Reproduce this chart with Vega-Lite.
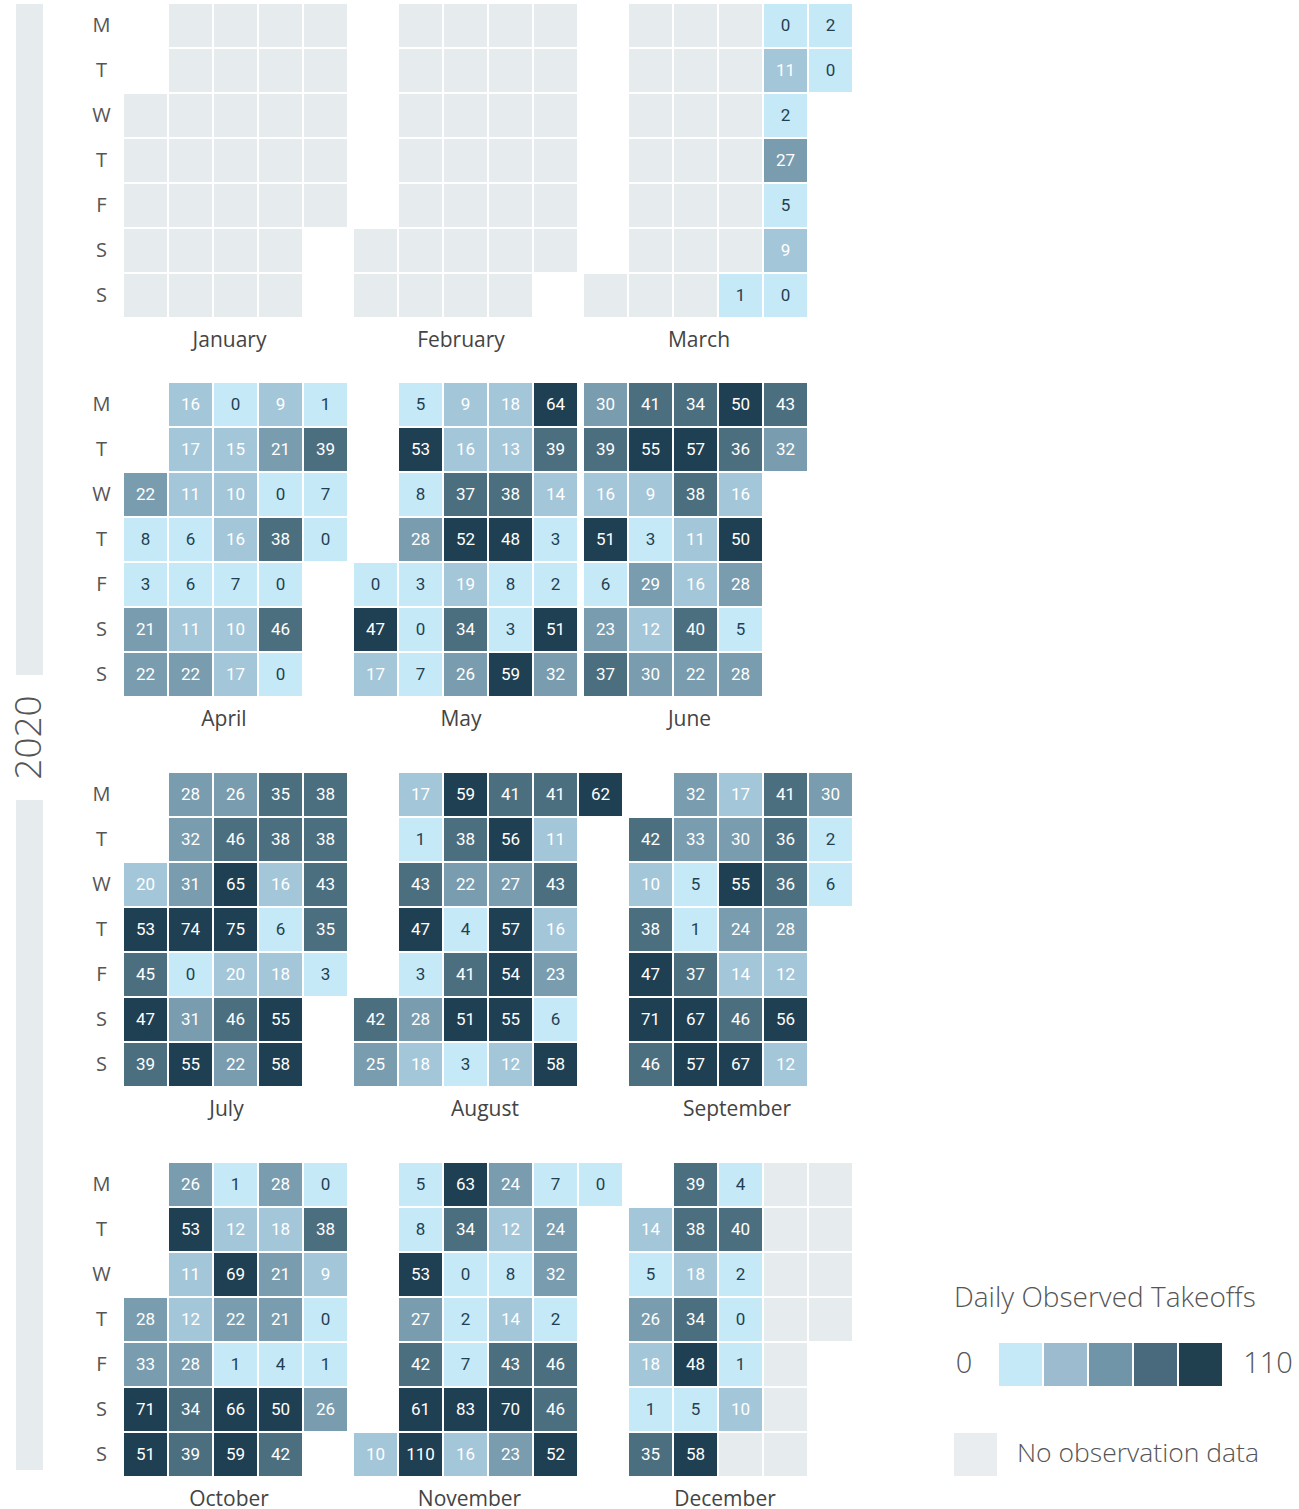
{
"$schema": "https://vega.github.io/schema/vega-lite/v6.json",
"padding": {"left": 10, "top": 4, "right": 5, "bottom": 0},
"background": "white",
"config": {"view": {"stroke": null}, "font": "Open Sans"},
"datasets": {"cal": [
{"date":"2020-01-01"},{"date":"2020-01-02"},{"date":"2020-01-03"},{"date":"2020-01-04"},{"date":"2020-01-05"},{"date":"2020-01-06"},{"date":"2020-01-07"},{"date":"2020-01-08"},{"date":"2020-01-09"},{"date":"2020-01-10"},{"date":"2020-01-11"},{"date":"2020-01-12"},{"date":"2020-01-13"},{"date":"2020-01-14"},{"date":"2020-01-15"},{"date":"2020-01-16"},{"date":"2020-01-17"},{"date":"2020-01-18"},{"date":"2020-01-19"},{"date":"2020-01-20"},{"date":"2020-01-21"},{"date":"2020-01-22"},{"date":"2020-01-23"},{"date":"2020-01-24"},{"date":"2020-01-25"},{"date":"2020-01-26"},{"date":"2020-01-27"},{"date":"2020-01-28"},{"date":"2020-01-29"},{"date":"2020-01-30"},{"date":"2020-01-31"},
{"date":"2020-02-01"},{"date":"2020-02-02"},{"date":"2020-02-03"},{"date":"2020-02-04"},{"date":"2020-02-05"},{"date":"2020-02-06"},{"date":"2020-02-07"},{"date":"2020-02-08"},{"date":"2020-02-09"},{"date":"2020-02-10"},{"date":"2020-02-11"},{"date":"2020-02-12"},{"date":"2020-02-13"},{"date":"2020-02-14"},{"date":"2020-02-15"},{"date":"2020-02-16"},{"date":"2020-02-17"},{"date":"2020-02-18"},{"date":"2020-02-19"},{"date":"2020-02-20"},{"date":"2020-02-21"},{"date":"2020-02-22"},{"date":"2020-02-23"},{"date":"2020-02-24"},{"date":"2020-02-25"},{"date":"2020-02-26"},{"date":"2020-02-27"},{"date":"2020-02-28"},{"date":"2020-02-29"},
{"date":"2020-03-01"},{"date":"2020-03-02"},{"date":"2020-03-03"},{"date":"2020-03-04"},{"date":"2020-03-05"},{"date":"2020-03-06"},{"date":"2020-03-07"},{"date":"2020-03-08"},{"date":"2020-03-09"},{"date":"2020-03-10"},{"date":"2020-03-11"},{"date":"2020-03-12"},{"date":"2020-03-13"},{"date":"2020-03-14"},{"date":"2020-03-15"},{"date":"2020-03-16"},{"date":"2020-03-17"},{"date":"2020-03-18"},{"date":"2020-03-19"},{"date":"2020-03-20"},{"date":"2020-03-21"},
{"date":"2020-03-22","v":1},{"date":"2020-03-23","v":0},{"date":"2020-03-24","v":11},{"date":"2020-03-25","v":2},{"date":"2020-03-26","v":27},{"date":"2020-03-27","v":5},{"date":"2020-03-28","v":9},{"date":"2020-03-29","v":0},{"date":"2020-03-30","v":2},{"date":"2020-03-31","v":0},
{"date":"2020-04-01","v":22},{"date":"2020-04-02","v":8},{"date":"2020-04-03","v":3},{"date":"2020-04-04","v":21},{"date":"2020-04-05","v":22},{"date":"2020-04-06","v":16},{"date":"2020-04-07","v":17},{"date":"2020-04-08","v":11},{"date":"2020-04-09","v":6},{"date":"2020-04-10","v":6},{"date":"2020-04-11","v":11},{"date":"2020-04-12","v":22},{"date":"2020-04-13","v":0},{"date":"2020-04-14","v":15},{"date":"2020-04-15","v":10},{"date":"2020-04-16","v":16},{"date":"2020-04-17","v":7},{"date":"2020-04-18","v":10},{"date":"2020-04-19","v":17},{"date":"2020-04-20","v":9},{"date":"2020-04-21","v":21},{"date":"2020-04-22","v":0},{"date":"2020-04-23","v":38},{"date":"2020-04-24","v":0},{"date":"2020-04-25","v":46},{"date":"2020-04-26","v":0},{"date":"2020-04-27","v":1},{"date":"2020-04-28","v":39},{"date":"2020-04-29","v":7},{"date":"2020-04-30","v":0},
{"date":"2020-05-01","v":0},{"date":"2020-05-02","v":47},{"date":"2020-05-03","v":17},{"date":"2020-05-04","v":5},{"date":"2020-05-05","v":53},{"date":"2020-05-06","v":8},{"date":"2020-05-07","v":28},{"date":"2020-05-08","v":3},{"date":"2020-05-09","v":0},{"date":"2020-05-10","v":7},{"date":"2020-05-11","v":9},{"date":"2020-05-12","v":16},{"date":"2020-05-13","v":37},{"date":"2020-05-14","v":52},{"date":"2020-05-15","v":19},{"date":"2020-05-16","v":34},{"date":"2020-05-17","v":26},{"date":"2020-05-18","v":18},{"date":"2020-05-19","v":13},{"date":"2020-05-20","v":38},{"date":"2020-05-21","v":48},{"date":"2020-05-22","v":8},{"date":"2020-05-23","v":3},{"date":"2020-05-24","v":59},{"date":"2020-05-25","v":64},{"date":"2020-05-26","v":39},{"date":"2020-05-27","v":14},{"date":"2020-05-28","v":3},{"date":"2020-05-29","v":2},{"date":"2020-05-30","v":51},{"date":"2020-05-31","v":32},
{"date":"2020-06-01","v":30},{"date":"2020-06-02","v":39},{"date":"2020-06-03","v":16},{"date":"2020-06-04","v":51},{"date":"2020-06-05","v":6},{"date":"2020-06-06","v":23},{"date":"2020-06-07","v":37},{"date":"2020-06-08","v":41},{"date":"2020-06-09","v":55},{"date":"2020-06-10","v":9},{"date":"2020-06-11","v":3},{"date":"2020-06-12","v":29},{"date":"2020-06-13","v":12},{"date":"2020-06-14","v":30},{"date":"2020-06-15","v":34},{"date":"2020-06-16","v":57},{"date":"2020-06-17","v":38},{"date":"2020-06-18","v":11},{"date":"2020-06-19","v":16},{"date":"2020-06-20","v":40},{"date":"2020-06-21","v":22},{"date":"2020-06-22","v":50},{"date":"2020-06-23","v":36},{"date":"2020-06-24","v":16},{"date":"2020-06-25","v":50},{"date":"2020-06-26","v":28},{"date":"2020-06-27","v":5},{"date":"2020-06-28","v":28},{"date":"2020-06-29","v":43},{"date":"2020-06-30","v":32},
{"date":"2020-07-01","v":20},{"date":"2020-07-02","v":53},{"date":"2020-07-03","v":45},{"date":"2020-07-04","v":47},{"date":"2020-07-05","v":39},{"date":"2020-07-06","v":28},{"date":"2020-07-07","v":32},{"date":"2020-07-08","v":31},{"date":"2020-07-09","v":74},{"date":"2020-07-10","v":0},{"date":"2020-07-11","v":31},{"date":"2020-07-12","v":55},{"date":"2020-07-13","v":26},{"date":"2020-07-14","v":46},{"date":"2020-07-15","v":65},{"date":"2020-07-16","v":75},{"date":"2020-07-17","v":20},{"date":"2020-07-18","v":46},{"date":"2020-07-19","v":22},{"date":"2020-07-20","v":35},{"date":"2020-07-21","v":38},{"date":"2020-07-22","v":16},{"date":"2020-07-23","v":6},{"date":"2020-07-24","v":18},{"date":"2020-07-25","v":55},{"date":"2020-07-26","v":58},{"date":"2020-07-27","v":38},{"date":"2020-07-28","v":38},{"date":"2020-07-29","v":43},{"date":"2020-07-30","v":35},{"date":"2020-07-31","v":3},
{"date":"2020-08-01","v":42},{"date":"2020-08-02","v":25},{"date":"2020-08-03","v":17},{"date":"2020-08-04","v":1},{"date":"2020-08-05","v":43},{"date":"2020-08-06","v":47},{"date":"2020-08-07","v":3},{"date":"2020-08-08","v":28},{"date":"2020-08-09","v":18},{"date":"2020-08-10","v":59},{"date":"2020-08-11","v":38},{"date":"2020-08-12","v":22},{"date":"2020-08-13","v":4},{"date":"2020-08-14","v":41},{"date":"2020-08-15","v":51},{"date":"2020-08-16","v":3},{"date":"2020-08-17","v":41},{"date":"2020-08-18","v":56},{"date":"2020-08-19","v":27},{"date":"2020-08-20","v":57},{"date":"2020-08-21","v":54},{"date":"2020-08-22","v":55},{"date":"2020-08-23","v":12},{"date":"2020-08-24","v":41},{"date":"2020-08-25","v":11},{"date":"2020-08-26","v":43},{"date":"2020-08-27","v":16},{"date":"2020-08-28","v":23},{"date":"2020-08-29","v":6},{"date":"2020-08-30","v":58},{"date":"2020-08-31","v":62},
{"date":"2020-09-01","v":42},{"date":"2020-09-02","v":10},{"date":"2020-09-03","v":38},{"date":"2020-09-04","v":47},{"date":"2020-09-05","v":71},{"date":"2020-09-06","v":46},{"date":"2020-09-07","v":32},{"date":"2020-09-08","v":33},{"date":"2020-09-09","v":5},{"date":"2020-09-10","v":1},{"date":"2020-09-11","v":37},{"date":"2020-09-12","v":67},{"date":"2020-09-13","v":57},{"date":"2020-09-14","v":17},{"date":"2020-09-15","v":30},{"date":"2020-09-16","v":55},{"date":"2020-09-17","v":24},{"date":"2020-09-18","v":14},{"date":"2020-09-19","v":46},{"date":"2020-09-20","v":67},{"date":"2020-09-21","v":41},{"date":"2020-09-22","v":36},{"date":"2020-09-23","v":36},{"date":"2020-09-24","v":28},{"date":"2020-09-25","v":12},{"date":"2020-09-26","v":56},{"date":"2020-09-27","v":12},{"date":"2020-09-28","v":30},{"date":"2020-09-29","v":2},{"date":"2020-09-30","v":6},
{"date":"2020-10-01","v":28},{"date":"2020-10-02","v":33},{"date":"2020-10-03","v":71},{"date":"2020-10-04","v":51},{"date":"2020-10-05","v":26},{"date":"2020-10-06","v":53},{"date":"2020-10-07","v":11},{"date":"2020-10-08","v":12},{"date":"2020-10-09","v":28},{"date":"2020-10-10","v":34},{"date":"2020-10-11","v":39},{"date":"2020-10-12","v":1},{"date":"2020-10-13","v":12},{"date":"2020-10-14","v":69},{"date":"2020-10-15","v":22},{"date":"2020-10-16","v":1},{"date":"2020-10-17","v":66},{"date":"2020-10-18","v":59},{"date":"2020-10-19","v":28},{"date":"2020-10-20","v":18},{"date":"2020-10-21","v":21},{"date":"2020-10-22","v":21},{"date":"2020-10-23","v":4},{"date":"2020-10-24","v":50},{"date":"2020-10-25","v":42},{"date":"2020-10-26","v":0},{"date":"2020-10-27","v":38},{"date":"2020-10-28","v":9},{"date":"2020-10-29","v":0},{"date":"2020-10-30","v":1},{"date":"2020-10-31","v":26},
{"date":"2020-11-01","v":10},{"date":"2020-11-02","v":5},{"date":"2020-11-03","v":8},{"date":"2020-11-04","v":53},{"date":"2020-11-05","v":27},{"date":"2020-11-06","v":42},{"date":"2020-11-07","v":61},{"date":"2020-11-08","v":110},{"date":"2020-11-09","v":63},{"date":"2020-11-10","v":34},{"date":"2020-11-11","v":0},{"date":"2020-11-12","v":2},{"date":"2020-11-13","v":7},{"date":"2020-11-14","v":83},{"date":"2020-11-15","v":16},{"date":"2020-11-16","v":24},{"date":"2020-11-17","v":12},{"date":"2020-11-18","v":8},{"date":"2020-11-19","v":14},{"date":"2020-11-20","v":43},{"date":"2020-11-21","v":70},{"date":"2020-11-22","v":23},{"date":"2020-11-23","v":7},{"date":"2020-11-24","v":24},{"date":"2020-11-25","v":32},{"date":"2020-11-26","v":2},{"date":"2020-11-27","v":46},{"date":"2020-11-28","v":46},{"date":"2020-11-29","v":52},{"date":"2020-11-30","v":0},
{"date":"2020-12-01","v":14},{"date":"2020-12-02","v":5},{"date":"2020-12-03","v":26},{"date":"2020-12-04","v":18},{"date":"2020-12-05","v":1},{"date":"2020-12-06","v":35},{"date":"2020-12-07","v":39},{"date":"2020-12-08","v":38},{"date":"2020-12-09","v":18},{"date":"2020-12-10","v":34},{"date":"2020-12-11","v":48},{"date":"2020-12-12","v":5},{"date":"2020-12-13","v":58},{"date":"2020-12-14","v":4},{"date":"2020-12-15","v":40},{"date":"2020-12-16","v":2},{"date":"2020-12-17","v":0},{"date":"2020-12-18","v":1},{"date":"2020-12-19","v":10},
{"date":"2020-12-20"},{"date":"2020-12-21"},{"date":"2020-12-22"},{"date":"2020-12-23"},{"date":"2020-12-24"},{"date":"2020-12-25"},{"date":"2020-12-26"},{"date":"2020-12-27"},{"date":"2020-12-28"},{"date":"2020-12-29"},{"date":"2020-12-30"},{"date":"2020-12-31"}
]},
"spacing": 43,
"hconcat": [
 {"spacing": 0, "vconcat": [
  {"width": 27, "height": 671, "data": {"values": [{}]}, "mark": {"type": "rect", "color": "#e6ebee"}, "encoding": {}},
  {"width": 27, "height": 125, "data": {"values": [{"year": "2020"}]}, "mark": {"type": "text", "angle": 270, "font": "Open Sans", "fontSize": 37, "fontWeight": 300, "color": "#555555", "align": "center", "baseline": "middle"}, "encoding": {"text": {"field": "year", "type": "nominal"}}},
  {"width": 27, "height": 670, "data": {"values": [{}]}, "mark": {"type": "rect", "color": "#e6ebee"}, "encoding": {}}
 ]},
 {"data": {"name": "cal"},
  "transform": [
   {"calculate": "toDate(datum.date)", "as": "t"},
   {"calculate": "utcmonth(datum.t)", "as": "mo"},
   {"calculate": "utcdate(datum.t)", "as": "dom"},
   {"calculate": "(utcday(datum.t) + 6) % 7", "as": "dow"},
   {"calculate": "floor((datum.dom - 1 + ((datum.dow - (datum.dom - 1) % 7 + 7) % 7)) / 7)", "as": "wk"}
  ],
  "spacing": 31,
  "vconcat": [
   {"spacing": 6, "hconcat": [
    {"title": {"text": "January", "orient": "bottom", "frame": "group", "offset": 13, "dx": -6, "fontSize": 21, "fontWeight": "normal", "color": "#444444", "font": "Open Sans"},
     "width": {"step": 45}, "height": {"step": 45},
     "transform": [{"filter": "datum.mo === 0"}],
     "encoding": {"x": {"field": "wk", "type": "ordinal", "axis": null, "scale": {"paddingInner": 0.0444, "paddingOuter": 0}},
      "y": {"field": "dow", "type": "ordinal", "scale": {"domain": [0,1,2,3,4,5,6], "paddingInner": 0.0444, "paddingOuter": 0},
       "axis": {"title": null, "domain": false, "ticks": false, "labelExpr": "['M','T','W','T','F','S','S'][datum.value]", "labelAlign": "center", "labelPadding": 23, "labelFont": "Open Sans", "labelFontSize": 20, "labelColor": "#555555"}}},
     "layer": [
      {"mark": {"type": "rect", "color": "#e6ebee"}},
      {"transform": [{"filter": "isValid(datum.v)"}], "mark": {"type": "rect"}, "encoding": {"color": {"field": "v", "type": "quantitative", "legend": null, "scale": {"type": "threshold", "domain": [9,21,34,47], "range": ["#c6e9f8","#a4c6d9","#799cae","#4c6f80","#1f3f52"]}}}},
      {"transform": [{"filter": "isValid(datum.v)"}], "mark": {"type": "text", "font": "Roboto", "fontSize": 17}, "encoding": {"text": {"field": "v", "type": "quantitative"}, "color": {"condition": {"test": "datum.v < 9", "value": "#1f3f52"}, "value": "#ffffff"}}}
     ]},
    {"title": {"text": "February", "orient": "bottom", "frame": "group", "offset": 13, "dx": -4.5, "fontSize": 21, "fontWeight": "normal", "color": "#444444", "font": "Open Sans"},
     "width": {"step": 45}, "height": {"step": 45},
     "transform": [{"filter": "datum.mo === 1"}],
     "encoding": {"x": {"field": "wk", "type": "ordinal", "axis": null, "scale": {"paddingInner": 0.0444, "paddingOuter": 0}},
      "y": {"field": "dow", "type": "ordinal", "axis": null, "scale": {"domain": [0,1,2,3,4,5,6], "paddingInner": 0.0444, "paddingOuter": 0}}},
     "layer": [
      {"mark": {"type": "rect", "color": "#e6ebee"}},
      {"transform": [{"filter": "isValid(datum.v)"}], "mark": {"type": "rect"}, "encoding": {"color": {"field": "v", "type": "quantitative", "legend": null, "scale": {"type": "threshold", "domain": [9,21,34,47], "range": ["#c6e9f8","#a4c6d9","#799cae","#4c6f80","#1f3f52"]}}}},
      {"transform": [{"filter": "isValid(datum.v)"}], "mark": {"type": "text", "font": "Roboto", "fontSize": 17}, "encoding": {"text": {"field": "v", "type": "quantitative"}, "color": {"condition": {"test": "datum.v < 9", "value": "#1f3f52"}, "value": "#ffffff"}}}
     ]},
    {"title": {"text": "March", "orient": "bottom", "frame": "group", "offset": 13, "dx": -19, "fontSize": 21, "fontWeight": "normal", "color": "#444444", "font": "Open Sans"},
     "width": {"step": 45}, "height": {"step": 45},
     "transform": [{"filter": "datum.mo === 2"}],
     "encoding": {"x": {"field": "wk", "type": "ordinal", "axis": null, "scale": {"paddingInner": 0.0444, "paddingOuter": 0}},
      "y": {"field": "dow", "type": "ordinal", "axis": null, "scale": {"domain": [0,1,2,3,4,5,6], "paddingInner": 0.0444, "paddingOuter": 0}}},
     "layer": [
      {"mark": {"type": "rect", "color": "#e6ebee"}},
      {"transform": [{"filter": "isValid(datum.v)"}], "mark": {"type": "rect"}, "encoding": {"color": {"field": "v", "type": "quantitative", "legend": null, "scale": {"type": "threshold", "domain": [9,21,34,47], "range": ["#c6e9f8","#a4c6d9","#799cae","#4c6f80","#1f3f52"]}}}},
      {"transform": [{"filter": "isValid(datum.v)"}], "mark": {"type": "text", "font": "Roboto", "fontSize": 17}, "encoding": {"text": {"field": "v", "type": "quantitative"}, "color": {"condition": {"test": "datum.v < 9", "value": "#1f3f52"}, "value": "#ffffff"}}}
     ]}
   ]},
   {"spacing": 42, "vconcat": [
    {"spacing": 6, "hconcat": [
     {"title": {"text": "April", "orient": "bottom", "frame": "group", "offset": 13, "dx": -11.5, "fontSize": 21, "fontWeight": "normal", "color": "#444444", "font": "Open Sans"},
      "width": {"step": 45}, "height": {"step": 45},
      "transform": [{"filter": "datum.mo === 3"}],
      "encoding": {"x": {"field": "wk", "type": "ordinal", "axis": null, "scale": {"paddingInner": 0.0444, "paddingOuter": 0}},
       "y": {"field": "dow", "type": "ordinal", "scale": {"domain": [0,1,2,3,4,5,6], "paddingInner": 0.0444, "paddingOuter": 0},
        "axis": {"title": null, "domain": false, "ticks": false, "labelExpr": "['M','T','W','T','F','S','S'][datum.value]", "labelAlign": "center", "labelPadding": 23, "labelFont": "Open Sans", "labelFontSize": 20, "labelColor": "#555555"}}},
      "layer": [
       {"mark": {"type": "rect", "color": "#e6ebee"}},
       {"transform": [{"filter": "isValid(datum.v)"}], "mark": {"type": "rect"}, "encoding": {"color": {"field": "v", "type": "quantitative", "legend": null, "scale": {"type": "threshold", "domain": [9,21,34,47], "range": ["#c6e9f8","#a4c6d9","#799cae","#4c6f80","#1f3f52"]}}}},
       {"transform": [{"filter": "isValid(datum.v)"}], "mark": {"type": "text", "font": "Roboto", "fontSize": 17}, "encoding": {"text": {"field": "v", "type": "quantitative"}, "color": {"condition": {"test": "datum.v < 9", "value": "#1f3f52"}, "value": "#ffffff"}}}
      ]},
     {"title": {"text": "May", "orient": "bottom", "frame": "group", "offset": 13, "dx": -4.5, "fontSize": 21, "fontWeight": "normal", "color": "#444444", "font": "Open Sans"},
      "width": {"step": 45}, "height": {"step": 45},
      "transform": [{"filter": "datum.mo === 4"}],
      "encoding": {"x": {"field": "wk", "type": "ordinal", "axis": null, "scale": {"paddingInner": 0.0444, "paddingOuter": 0}},
       "y": {"field": "dow", "type": "ordinal", "axis": null, "scale": {"domain": [0,1,2,3,4,5,6], "paddingInner": 0.0444, "paddingOuter": 0}}},
      "layer": [
       {"mark": {"type": "rect", "color": "#e6ebee"}},
       {"transform": [{"filter": "isValid(datum.v)"}], "mark": {"type": "rect"}, "encoding": {"color": {"field": "v", "type": "quantitative", "legend": null, "scale": {"type": "threshold", "domain": [9,21,34,47], "range": ["#c6e9f8","#a4c6d9","#799cae","#4c6f80","#1f3f52"]}}}},
       {"transform": [{"filter": "isValid(datum.v)"}], "mark": {"type": "text", "font": "Roboto", "fontSize": 17}, "encoding": {"text": {"field": "v", "type": "quantitative"}, "color": {"condition": {"test": "datum.v < 9", "value": "#1f3f52"}, "value": "#ffffff"}}}
      ]},
     {"title": {"text": "June", "orient": "bottom", "frame": "group", "offset": 13, "dx": -6, "fontSize": 21, "fontWeight": "normal", "color": "#444444", "font": "Open Sans"},
      "width": {"step": 45}, "height": {"step": 45},
      "transform": [{"filter": "datum.mo === 5"}],
      "encoding": {"x": {"field": "wk", "type": "ordinal", "axis": null, "scale": {"paddingInner": 0.0444, "paddingOuter": 0}},
       "y": {"field": "dow", "type": "ordinal", "axis": null, "scale": {"domain": [0,1,2,3,4,5,6], "paddingInner": 0.0444, "paddingOuter": 0}}},
      "layer": [
       {"mark": {"type": "rect", "color": "#e6ebee"}},
       {"transform": [{"filter": "isValid(datum.v)"}], "mark": {"type": "rect"}, "encoding": {"color": {"field": "v", "type": "quantitative", "legend": null, "scale": {"type": "threshold", "domain": [9,21,34,47], "range": ["#c6e9f8","#a4c6d9","#799cae","#4c6f80","#1f3f52"]}}}},
       {"transform": [{"filter": "isValid(datum.v)"}], "mark": {"type": "text", "font": "Roboto", "fontSize": 17}, "encoding": {"text": {"field": "v", "type": "quantitative"}, "color": {"condition": {"test": "datum.v < 9", "value": "#1f3f52"}, "value": "#ffffff"}}}
      ]}
    ]},
    {"spacing": 6, "hconcat": [
     {"title": {"text": "July", "orient": "bottom", "frame": "group", "offset": 13, "dx": -9, "fontSize": 21, "fontWeight": "normal", "color": "#444444", "font": "Open Sans"},
      "width": {"step": 45}, "height": {"step": 45},
      "transform": [{"filter": "datum.mo === 6"}],
      "encoding": {"x": {"field": "wk", "type": "ordinal", "axis": null, "scale": {"paddingInner": 0.0444, "paddingOuter": 0}},
       "y": {"field": "dow", "type": "ordinal", "scale": {"domain": [0,1,2,3,4,5,6], "paddingInner": 0.0444, "paddingOuter": 0},
        "axis": {"title": null, "domain": false, "ticks": false, "labelExpr": "['M','T','W','T','F','S','S'][datum.value]", "labelAlign": "center", "labelPadding": 23, "labelFont": "Open Sans", "labelFontSize": 20, "labelColor": "#555555"}}},
      "layer": [
       {"mark": {"type": "rect", "color": "#e6ebee"}},
       {"transform": [{"filter": "isValid(datum.v)"}], "mark": {"type": "rect"}, "encoding": {"color": {"field": "v", "type": "quantitative", "legend": null, "scale": {"type": "threshold", "domain": [9,21,34,47], "range": ["#c6e9f8","#a4c6d9","#799cae","#4c6f80","#1f3f52"]}}}},
       {"transform": [{"filter": "isValid(datum.v)"}], "mark": {"type": "text", "font": "Roboto", "fontSize": 17}, "encoding": {"text": {"field": "v", "type": "quantitative"}, "color": {"condition": {"test": "datum.v < 9", "value": "#1f3f52"}, "value": "#ffffff"}}}
      ]},
     {"title": {"text": "August", "orient": "bottom", "frame": "group", "offset": 13, "dx": -3, "fontSize": 21, "fontWeight": "normal", "color": "#444444", "font": "Open Sans"},
      "width": {"step": 45}, "height": {"step": 45},
      "transform": [{"filter": "datum.mo === 7"}],
      "encoding": {"x": {"field": "wk", "type": "ordinal", "axis": null, "scale": {"paddingInner": 0.0444, "paddingOuter": 0}},
       "y": {"field": "dow", "type": "ordinal", "axis": null, "scale": {"domain": [0,1,2,3,4,5,6], "paddingInner": 0.0444, "paddingOuter": 0}}},
      "layer": [
       {"mark": {"type": "rect", "color": "#e6ebee"}},
       {"transform": [{"filter": "isValid(datum.v)"}], "mark": {"type": "rect"}, "encoding": {"color": {"field": "v", "type": "quantitative", "legend": null, "scale": {"type": "threshold", "domain": [9,21,34,47], "range": ["#c6e9f8","#a4c6d9","#799cae","#4c6f80","#1f3f52"]}}}},
       {"transform": [{"filter": "isValid(datum.v)"}], "mark": {"type": "text", "font": "Roboto", "fontSize": 17}, "encoding": {"text": {"field": "v", "type": "quantitative"}, "color": {"condition": {"test": "datum.v < 9", "value": "#1f3f52"}, "value": "#ffffff"}}}
      ]},
     {"title": {"text": "September", "orient": "bottom", "frame": "group", "offset": 13, "dx": -3.5, "fontSize": 21, "fontWeight": "normal", "color": "#444444", "font": "Open Sans"},
      "width": {"step": 45}, "height": {"step": 45},
      "transform": [{"filter": "datum.mo === 8"}],
      "encoding": {"x": {"field": "wk", "type": "ordinal", "axis": null, "scale": {"paddingInner": 0.0444, "paddingOuter": 0}},
       "y": {"field": "dow", "type": "ordinal", "axis": null, "scale": {"domain": [0,1,2,3,4,5,6], "paddingInner": 0.0444, "paddingOuter": 0}}},
      "layer": [
       {"mark": {"type": "rect", "color": "#e6ebee"}},
       {"transform": [{"filter": "isValid(datum.v)"}], "mark": {"type": "rect"}, "encoding": {"color": {"field": "v", "type": "quantitative", "legend": null, "scale": {"type": "threshold", "domain": [9,21,34,47], "range": ["#c6e9f8","#a4c6d9","#799cae","#4c6f80","#1f3f52"]}}}},
       {"transform": [{"filter": "isValid(datum.v)"}], "mark": {"type": "text", "font": "Roboto", "fontSize": 17}, "encoding": {"text": {"field": "v", "type": "quantitative"}, "color": {"condition": {"test": "datum.v < 9", "value": "#1f3f52"}, "value": "#ffffff"}}}
      ]}
    ]},
    {"spacing": 101, "hconcat": [
     {"spacing": 6, "hconcat": [
      {"title": {"text": "October", "orient": "bottom", "frame": "group", "offset": 13, "dx": -6.5, "fontSize": 21, "fontWeight": "normal", "color": "#444444", "font": "Open Sans"},
       "width": {"step": 45}, "height": {"step": 45},
       "transform": [{"filter": "datum.mo === 9"}],
       "encoding": {"x": {"field": "wk", "type": "ordinal", "axis": null, "scale": {"paddingInner": 0.0444, "paddingOuter": 0}},
        "y": {"field": "dow", "type": "ordinal", "scale": {"domain": [0,1,2,3,4,5,6], "paddingInner": 0.0444, "paddingOuter": 0},
         "axis": {"title": null, "domain": false, "ticks": false, "labelExpr": "['M','T','W','T','F','S','S'][datum.value]", "labelAlign": "center", "labelPadding": 23, "labelFont": "Open Sans", "labelFontSize": 20, "labelColor": "#555555"}}},
       "layer": [
        {"mark": {"type": "rect", "color": "#e6ebee"}},
        {"transform": [{"filter": "isValid(datum.v)"}], "mark": {"type": "rect"}, "encoding": {"color": {"field": "v", "type": "quantitative", "legend": null, "scale": {"type": "threshold", "domain": [9,21,34,47], "range": ["#c6e9f8","#a4c6d9","#799cae","#4c6f80","#1f3f52"]}}}},
        {"transform": [{"filter": "isValid(datum.v)"}], "mark": {"type": "text", "font": "Roboto", "fontSize": 17}, "encoding": {"text": {"field": "v", "type": "quantitative"}, "color": {"condition": {"test": "datum.v < 9", "value": "#1f3f52"}, "value": "#ffffff"}}}
       ]},
      {"title": {"text": "November", "orient": "bottom", "frame": "group", "offset": 13, "dx": -18.5, "fontSize": 21, "fontWeight": "normal", "color": "#444444", "font": "Open Sans"},
       "width": {"step": 45}, "height": {"step": 45},
       "transform": [{"filter": "datum.mo === 10"}],
       "encoding": {"x": {"field": "wk", "type": "ordinal", "axis": null, "scale": {"paddingInner": 0.0444, "paddingOuter": 0}},
        "y": {"field": "dow", "type": "ordinal", "axis": null, "scale": {"domain": [0,1,2,3,4,5,6], "paddingInner": 0.0444, "paddingOuter": 0}}},
       "layer": [
        {"mark": {"type": "rect", "color": "#e6ebee"}},
        {"transform": [{"filter": "isValid(datum.v)"}], "mark": {"type": "rect"}, "encoding": {"color": {"field": "v", "type": "quantitative", "legend": null, "scale": {"type": "threshold", "domain": [9,21,34,47], "range": ["#c6e9f8","#a4c6d9","#799cae","#4c6f80","#1f3f52"]}}}},
        {"transform": [{"filter": "isValid(datum.v)"}], "mark": {"type": "text", "font": "Roboto", "fontSize": 17}, "encoding": {"text": {"field": "v", "type": "quantitative"}, "color": {"condition": {"test": "datum.v < 9", "value": "#1f3f52"}, "value": "#ffffff"}}}
       ]},
      {"title": {"text": "December", "orient": "bottom", "frame": "group", "offset": 13, "dx": -15.5, "fontSize": 21, "fontWeight": "normal", "color": "#444444", "font": "Open Sans"},
       "width": {"step": 45}, "height": {"step": 45},
       "transform": [{"filter": "datum.mo === 11"}],
       "encoding": {"x": {"field": "wk", "type": "ordinal", "axis": null, "scale": {"paddingInner": 0.0444, "paddingOuter": 0}},
        "y": {"field": "dow", "type": "ordinal", "axis": null, "scale": {"domain": [0,1,2,3,4,5,6], "paddingInner": 0.0444, "paddingOuter": 0}}},
       "layer": [
        {"mark": {"type": "rect", "color": "#e6ebee"}},
        {"transform": [{"filter": "isValid(datum.v)"}], "mark": {"type": "rect"}, "encoding": {"color": {"field": "v", "type": "quantitative", "legend": null, "scale": {"type": "threshold", "domain": [9,21,34,47], "range": ["#c6e9f8","#a4c6d9","#799cae","#4c6f80","#1f3f52"]}}}},
        {"transform": [{"filter": "isValid(datum.v)"}], "mark": {"type": "text", "font": "Roboto", "fontSize": 17}, "encoding": {"text": {"field": "v", "type": "quantitative"}, "color": {"condition": {"test": "datum.v < 9", "value": "#1f3f52"}, "value": "#ffffff"}}}
       ]}
     ]},
     {"width": 268, "height": 313,
      "layer": [
       {"data": {"values": [{"bin": 1},{"bin": 2},{"bin": 3},{"bin": 4},{"bin": 5}]},
        "mark": {"type": "rect"},
        "encoding": {
         "x": {"field": "bin", "type": "ordinal", "axis": null, "scale": {"domain": [0,1,2,3,4,5], "paddingInner": 0.0444, "paddingOuter": 0}},
         "y": {"datum": 4, "type": "ordinal", "axis": null, "scale": {"domain": [0,1,2,3,4,5,6], "paddingInner": 0.0444, "paddingOuter": 0}},
         "fill": {"field": "bin", "type": "ordinal", "legend": null, "scale": {"domain": [1,2,3,4,5], "range": ["#c6e9f8","#9dbbcf","#7094a8","#486a7c","#21404f"]}}}},
       {"data": {"values": [{"label": "No observation data"}]},
        "mark": {"type": "rect", "color": "#eaedef"},
        "encoding": {"x": {"datum": 0, "type": "ordinal"}, "y": {"datum": 6, "type": "ordinal"}}},
       {"data": {"values": [{"label": "No observation data"}]},
        "mark": {"type": "text", "align": "left", "dx": 41.5, "font": "Open Sans", "fontWeight": 300, "fontSize": 26.5, "color": "#555555"},
        "encoding": {"x": {"datum": 0, "type": "ordinal"}, "y": {"datum": 6, "type": "ordinal"}, "text": {"field": "label", "type": "nominal"}}},
       {"data": {"values": [{"label": "0"}]},
        "mark": {"type": "text", "align": "center", "dx": -56.5, "font": "Open Sans", "fontWeight": 300, "fontSize": 29, "color": "#555555"},
        "encoding": {"x": {"datum": 1, "type": "ordinal"}, "y": {"datum": 4, "type": "ordinal"}, "text": {"field": "label", "type": "nominal"}}},
       {"data": {"values": [{"label": "110"}]},
        "mark": {"type": "text", "align": "center", "dx": 67.5, "font": "Open Sans", "fontWeight": 300, "fontSize": 29, "color": "#555555"},
        "encoding": {"x": {"datum": 5, "type": "ordinal"}, "y": {"datum": 4, "type": "ordinal"}, "text": {"field": "label", "type": "nominal"}}},
       {"data": {"values": [{"label": "Daily Observed Takeoffs"}]},
        "mark": {"type": "text", "align": "left", "dx": -21.5, "dy": -21, "font": "Open Sans", "fontWeight": 300, "fontSize": 28, "color": "#555555"},
        "encoding": {"x": {"datum": 0, "type": "ordinal"}, "y": {"datum": 3, "type": "ordinal"}, "text": {"field": "label", "type": "nominal"}}}
      ]}
    ]}
   ]}
  ]}
]
}
